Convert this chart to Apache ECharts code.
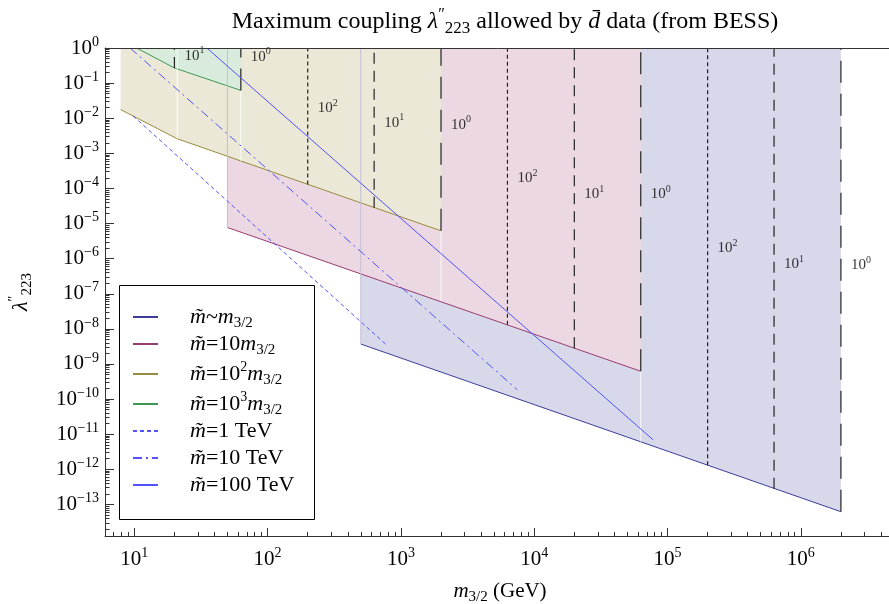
<!DOCTYPE html>
<html>
<head>
<meta charset="utf-8">
<title>Maximum coupling allowed by anti-deuteron data</title>
<script src="https://cdn.jsdelivr.net/npm/echarts@6.0.0/dist/echarts.min.js"></script>
<style>
  html, body { width: 100%; height: 100%; margin: 0; padding: 0; background: #fff; }
  #main { width: 889px; height: 604px; }
</style>
</head>
<body>
<div id="main"></div>
<script>
// values: x = m3/2 (GeV), y = lambda''_223
var xMajor = [1e1, 1e2, 1e3, 1e4, 1e5, 1e6];
var yMajor = [1, 1e-1, 1e-2, 1e-3, 1e-4, 1e-5, 1e-6, 1e-7, 1e-8, 1e-9, 1e-10, 1e-11, 1e-12, 1e-13];

// lower edges of the shaded regions (region fills up to lambda = 1)
var bandMsugra = [[500, 3.7e-9], [2.0e6, 6.2e-14]];              // m~ ~ m3/2
var band10 = [[50, 7.7e-6], [6.3e4, 6.2e-10]];                    // m~ = 10 m3/2
var band100 = [[7.9, 1.76e-2], [21, 2.6e-3], [2000, 6.2e-6]];     // m~ = 10^2 m3/2
var band1000 = [[10.4, 1.0], [20, 0.27], [63, 6.2e-2]];           // m~ = 10^3 m3/2

// fixed sfermion mass curves
var tev1 = [[9.8, 1.16e-2], [766, 3.7e-9]];
var tev10 = [[9.3, 1.0], [7460, 1.85e-10]];
var tev100 = [[35, 1.0], [7.8e4, 6.9e-12]];

// vertical dashed lines, their lower end, the exponent tag and where the tag sits
var vlineM = [20, 63, 200, 630, 2000, 6300, 2e4, 6.3e4, 2e5, 6.3e5, 2e6];
var vlineLow = [0.27, 0.062, 1.3e-4, 2.8e-5, 6.2e-6, 1.3e-8, 2.8e-9, 6.2e-10, 1.3e-12, 2.8e-13, 6.2e-14];
var vlineTag = [1, 0, 2, 1, 0, 2, 1, 0, 2, 1, 0];
var tagLambda = [0.6, 0.56, 1.95e-2, 7.4e-3, 6.5e-3, 1.95e-4, 6.9e-5, 6.9e-5, 1.95e-6, 6.9e-7, 6.5e-7];

// seams of the filled polygons
var edgeM = [50, 500];
var edgeLow = [7.7e-6, 3.7e-9];
var seamM = [21, 63, 2000, 6.3e4];
var seamLow = [2.6e-3, 6.0e-4, 6.2e-8, 6.2e-12];
var seamHigh = [1.0, 6.2e-2, 6.2e-6, 6.2e-10];

var seriesNames = ['m~ ~ m3/2', 'm~ = 10 m3/2', 'm~ = 10^2 m3/2', 'm~ = 10^3 m3/2',
                   'm~ = 1 TeV', 'm~ = 10 TeV', 'm~ = 100 TeV'];
var legendLabels = [
  '{g|}{i|m\u0303}{t|~}{i|m}{sb|3/2}',
  '{g|}{i|m\u0303}{t|=10}{i|m}{sb|3/2}',
  '{g|}{i|m\u0303}{t|=10}{sp|2}{i|m}{sb|3/2}',
  '{g|}{i|m\u0303}{t|=10}{sp|3}{i|m}{sb|3/2}',
  '{g|}{i|m\u0303}{t|=1 TeV}{sb| }',
  '{g|}{i|m\u0303}{t|=10 TeV}{sb| }',
  '{g|}{i|m\u0303}{t|=100 TeV}{sb| }'
];

var FONT = '"Liberation Serif", "Times New Roman", serif';
var xMin = 6.03, xMax = 5.09e6;
var yMin = 1.26e-14, yMax = 1;

var xMinor = [], yMinor = [];
xMajor.concat([1]).forEach(function (d) {
  for (var k = 2; k <= 9; k++) xMinor.push(k * d);
});
yMajor.concat([1e-14]).forEach(function (d) {
  for (var k = 2; k <= 9; k++) if (k * d < 1) yMinor.push(k * d);
});

function powLabel(v) {
  var e = Math.round(Math.log10(v));
  return '{b|10}{s|' + (e < 0 ? '\u2212' + (-e) : e) + '}';
}
function textRich(size) {
  return {
    t: { fontFamily: FONT, fontSize: size, fontWeight: 'normal', color: '#000', lineHeight: size + 6 },
    i: { fontFamily: FONT, fontSize: size, fontWeight: 'normal', fontStyle: 'italic', color: '#000', lineHeight: size + 6 },
    sb: { fontFamily: FONT, fontSize: Math.round(size * 0.7), fontWeight: 'normal', color: '#000', lineHeight: Math.round(size * 0.7), verticalAlign: 'bottom' },
    sp: { fontFamily: FONT, fontSize: Math.round(size * 0.65), fontWeight: 'normal', color: '#000', lineHeight: Math.round(size * 0.65), verticalAlign: 'top' },
    g: { width: 27 }
  };
}
function powRich(size) {
  return {
    b: { fontFamily: FONT, fontSize: size, color: '#000', lineHeight: size + 5 },
    s: { fontFamily: FONT, fontSize: Math.round(size * 0.66), color: '#000', lineHeight: Math.round(size * 0.66), verticalAlign: 'top' }
  };
}

var bands = [
  { data: bandMsugra, line: '#3d3d99', fill: '#d8d8eb' },
  { data: band10, line: '#993d71', fill: '#ebd8e2' },
  { data: band100, line: '#998b3d', fill: '#ebe8d8' },
  { data: band1000, line: '#3d9954', fill: '#d8ebdd' }
];
var dashByTag = { 2: [4, 3], 1: [11, 7], 0: [22, 11] };

var series = [];
bands.forEach(function (b, i) {
  series.push({
    name: seriesNames[i], type: 'line', data: b.data, symbol: 'none',
    itemStyle: { color: b.line },
    lineStyle: { color: b.line, width: 1 },
    areaStyle: { color: b.fill, opacity: 1, origin: 'end' },
    silent: true
  });
});
edgeM.forEach(function (m, i) {
  series.push({
    type: 'line', data: [[m, edgeLow[i]], [m, yMax]], symbol: 'none', silent: true,
    lineStyle: { color: '#c4bfd6', width: 1 }
  });
});
seamM.forEach(function (m, i) {
  series.push({
    type: 'line', data: [[m, seamLow[i]], [m, seamHigh[i]]], symbol: 'none', silent: true,
    lineStyle: { color: 'rgba(255,255,255,0.85)', width: 1 }
  });
});
vlineM.forEach(function (m, i) {
  series.push({
    type: 'line', data: [[m, vlineLow[i]], [m, yMax]], symbol: 'none', silent: true,
    lineStyle: { color: '#222', width: 1.2, type: dashByTag[vlineTag[i]] }
  });
});
[[tev1, [4, 3]], [tev10, [9, 4, 2, 4]], [tev100, 'solid']].forEach(function (c, j) {
  series.push({
    name: seriesNames[4 + j], type: 'line', data: c[0], symbol: 'none', silent: true,
    itemStyle: { color: '#5252ff' },
    lineStyle: { color: '#5252ff', width: 1, type: c[1] }
  });
});
series.push({
  type: 'scatter', symbolSize: 0, silent: true, z: 8,
  data: vlineM.map(function (m, i) { return [m, tagLambda[i]]; }),
  label: {
    show: true, position: 'right', distance: 10,
    formatter: function (p) { return powLabel(Math.pow(10, vlineTag[p.dataIndex])); },
    rich: powRich(15)
  },
  labelLayout: { hideOverlap: false }
});

var chart = echarts.init(document.getElementById('main'), null, { renderer: 'canvas' });
chart.setOption({
  animation: false,
  backgroundColor: '#fff',
  title: {
    text: '{t|Maximum coupling }{i|\u03bb}{sp|\u2033}{sb|223}{t| allowed by }{i|d\u0304}{t| data (from BESS)}',
    left: 500, top: 2, textAlign: 'center',
    textStyle: { fontWeight: 'normal', rich: textRich(24) }
  },
  grid: { left: 105, right: -6, top: 48, bottom: 68, containLabel: false, outerBoundsMode: 'none' },
  xAxis: [
    {
      type: 'log', logBase: 10, min: xMin, max: xMax, position: 'bottom', z: 10,
      name: '{i|m}{sb|3/2}{t| (GeV)}', nameLocation: 'middle', nameGap: 42,
      nameTextStyle: { rich: textRich(21) },
      axisLine: { show: true, onZero: false, lineStyle: { color: '#333', width: 1 } },
      axisTick: { inside: true, length: 8, customValues: xMajor, lineStyle: { color: '#333' } },
      axisLabel: { customValues: xMajor, formatter: powLabel, rich: powRich(21), margin: 10 },
      splitLine: { show: false }
    },
    {
      type: 'log', logBase: 10, min: xMin, max: xMax, position: 'bottom', z: 10,
      axisLine: { show: false },
      axisTick: { inside: true, length: 4, customValues: xMinor, lineStyle: { color: '#333' } },
      axisLabel: { show: false }, splitLine: { show: false }
    },
    {
      type: 'log', logBase: 10, min: xMin, max: xMax, position: 'top', z: 10,
      axisLine: { show: true, onZero: false, lineStyle: { color: '#333', width: 1 } },
      axisTick: { show: false }, axisLabel: { show: false }, splitLine: { show: false }
    }
  ],
  yAxis: [
    {
      type: 'log', logBase: 10, min: yMin, max: yMax, position: 'left', z: 10,
      name: '{i|\u03bb}{sp|\u2033}{sb|223}', nameLocation: 'middle', nameGap: 70, nameRotate: 90,
      nameTextStyle: { rich: textRich(22) },
      axisLine: { show: true, onZero: false, lineStyle: { color: '#333', width: 1 } },
      axisTick: { inside: true, length: 9, customValues: yMajor, lineStyle: { color: '#333' } },
      axisLabel: { customValues: yMajor, formatter: powLabel, rich: powRich(21), margin: 6 },
      splitLine: { show: false }
    },
    {
      type: 'log', logBase: 10, min: yMin, max: yMax, position: 'left', z: 10,
      axisLine: { show: false },
      axisTick: { inside: true, length: 4.5, customValues: yMinor, lineStyle: { color: '#333' } },
      axisLabel: { show: false }, splitLine: { show: false }
    }
  ],
  legend: {
    data: seriesNames, orient: 'vertical', left: 132, top: 306, padding: 0,
    itemWidth: 25, itemHeight: 14, itemGap: 2, selectedMode: false, z: 6,
    itemStyle: { opacity: 0 },
    formatter: function (name) { return legendLabels[seriesNames.indexOf(name)]; },
    textStyle: { rich: textRich(22) }
  },
  graphic: [{
    type: 'rect', z: 5, silent: true,
    shape: { x: 119.5, y: 285.5, width: 195, height: 234 },
    style: { fill: '#fff', stroke: '#000', lineWidth: 1 }
  }],
  series: series
});
window.addEventListener('resize', function () { chart.resize(); });
</script>
</body>
</html>
